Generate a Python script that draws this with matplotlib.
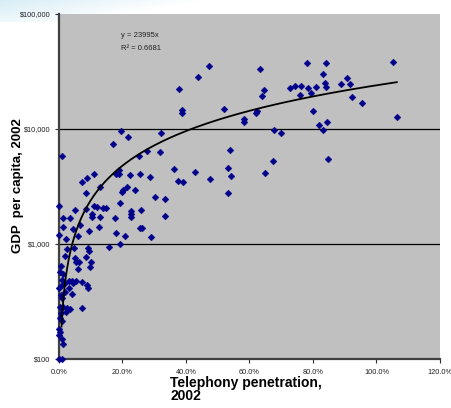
import matplotlib
matplotlib.use("Agg")
import matplotlib.pyplot as plt
import numpy as np
from matplotlib.ticker import FixedLocator, FixedFormatter
from matplotlib import font_manager

# Telephony penetration (%) and GDP per capita ($), 2002
pen = [17.0, 19.5, 21.6, 25.3, 27.8, 32.0, 31.8, 17.9, 19.0, 19.0, 22.5, 25.4, 28.8,
       36.2, 37.5, 39.1, 28.9, 30.3, 33.4, 33.3, 21.3, 20.3, 19.8, 23.9, 19.3, 13.8,
       14.9, 13.0, 17.6, 22.7, 22.8, 22.8, 25.9, 25.5, 26.0, 18.0, 20.8, 15.8, 19.2,
       37.8, 38.8, 38.7, 42.8, 43.7, 47.2, 47.5, 51.9, 53.3, 53.8, 54.2, 53.3, 58.4,
       58.3, 62.0, 62.4, 63.4, 63.9, 64.6, 65.0, 67.5, 67.8, 69.8, 72.7, 74.4, 76.1,
       75.8, 78.2, 78.5, 79.4, 79.9, 80.9, 81.9, 83.1, 83.2, 83.8, 84.2, 84.1, 84.4,
       84.8, 88.8, 90.7, 91.6, 92.4, 95.3, 105.3, 106.4,
       1.1, 7.1, 8.8, 11.1, 8.4, 12.9, 0.1, 1.3, 3.4, 5.0, 8.6, 10.9, 11.9, 10.5, 10.5,
       1.4, 4.5, 6.5, 9.4, 12.6, 0.0, 2.3, 6.0, 2.4, 4.6, 9.0, 9.5, 2.0, 5.0, 5.4, 6.4,
       8.4, 10.2, 6.1, 9.7, 0.2, 0.6, 1.3, 1.0, 1.0, 1.9, 3.1, 4.0, 5.4, 4.5, 7.1, 8.8,
       9.0, 3.1, 1.9, 0.0, 0.6, 1.0, 0.3, 1.4, 2.5, 3.4, 2.2, 0.6, 0.4, 0.9, 0.0, 0.2,
       0.1, 1.0, 1.3, 7.1, 0.1, 0.9, 4.0]
gdp = [7410, 9620, 8570, 5860, 6400, 9290, 6310, 4060, 4100, 4360, 3980, 4060, 3860,
       4490, 3530, 3460, 1160, 2560, 2460, 1760, 3110, 2950, 2830, 2950, 2290, 2070,
       2070, 1730, 1670, 1950, 1820, 1730, 1980, 1380, 1380, 1250, 1170, 936, 1000,
       22100, 14600, 13700, 4200, 28500, 35100, 3650, 15000, 4610, 6570, 3920, 2790, 12200,
       11400, 13800, 14300, 33200, 19500, 21800, 4120, 5300, 9860, 9180, 22600, 23800, 23800,
       19600, 37700, 22900, 20700, 14300, 23300, 10800, 29900, 9800, 25300, 23300, 37700, 11600,
       5480, 24800, 27900, 24800, 19000, 16700, 38500, 12800,
       5860, 3440, 3770, 4060, 2790, 3150, 2150, 1690, 1690, 1990, 2030, 2140, 2110, 1820, 1730,
       1410, 1350, 1470, 1290, 1410, 1200, 1110, 1170, 900, 923, 923, 875, 791, 751, 701, 701,
       766, 701, 607, 627, 574, 647, 545, 483, 440, 455, 476, 480, 480, 455, 465, 437,
       412, 417, 385, 412, 360, 337, 285, 285, 276, 270, 258, 250, 229, 214, 182, 171,
       162, 149, 136, 276, 100, 100, 370]

trend_coef = 23995          # y = 23995x  (x as a fraction)
eq_text = "y = 23995x"
r2_text = "R\u00b2 = 0.6681"
x_ticks = [0, 20, 40, 60, 80, 100, 120]
x_labels = ["0.0%", "20.0%", "40.0%", "60.0%", "80.0%", "100.0%", "120.0%"]
y_ticks = [100, 1000, 10000, 100000]
y_labels = ["$100", "$1,000", "$10,000", "$100,000"]

plt.rcParams['font.family'] = ['Liberation Sans', 'DejaVu Sans']
names = {f.name for f in font_manager.fontManager.ttflist}
narrow = 'Liberation Sans Narrow' if 'Liberation Sans Narrow' in names else 'Liberation Sans'

fig = plt.figure(figsize=(4.51, 4.08), dpi=100)
fig.patch.set_facecolor('white')

# faint slide decoration at the top-left
deco = fig.add_axes([0.0, 0.945, 0.55, 0.055])
gx = np.linspace(0, 1, 200)[None, :]
gy = np.linspace(0, 1, 20)[:, None]
grad = np.clip(gx * 1.2 + gy * 0.6, 0, 1)
deco.imshow(grad, cmap=matplotlib.colors.LinearSegmentedColormap.from_list(
    'd', ['#cde9f5', '#ffffff']), aspect='auto', alpha=0.8)
deco.axis('off')

ax = fig.add_axes([0.1308, 0.1201, 0.8448, 0.8456])
ax.set_facecolor('#C0C0C0')

ax.set_yscale('log')
ax.set_xlim(0, 120)
ax.set_ylim(100, 100000)

for yv in [1000, 10000]:
    ax.axhline(yv, color='black', lw=0.9, zorder=1)

ax.scatter(pen, gdp, marker='D', s=12, color='#00008B', edgecolors='#00008B',
           linewidths=0.3, zorder=3, clip_on=False)

xs = np.linspace(0.8, max(pen), 300)
ax.plot(xs, trend_coef * xs / 100.0, color='black', lw=1.3, zorder=4)

ax.text(19.5, 65000, eq_text, fontsize=5.5, color='#222222', ha='left', va='center',
        family=narrow)
ax.text(19.5, 50500, r2_text, fontsize=5.5, color='#222222', ha='left', va='center',
        family=narrow)

ax.xaxis.set_major_locator(FixedLocator(x_ticks))
ax.xaxis.set_major_formatter(FixedFormatter(x_labels))
ax.yaxis.set_major_locator(FixedLocator(y_ticks))
ax.yaxis.set_major_formatter(FixedFormatter(y_labels))
ax.yaxis.set_minor_locator(FixedLocator([]))
ax.tick_params(axis='both', labelsize=5.3, length=3, width=0.8, color='#303030',
               labelcolor='#222222', pad=3)
ax.tick_params(axis='x', pad=4)
for lab in ax.get_xticklabels() + ax.get_yticklabels():
    lab.set_family(narrow)

for s in ['top', 'right']:
    ax.spines[s].set_visible(False)
for s in ['left', 'bottom']:
    ax.spines[s].set_color('#404040')
    ax.spines[s].set_linewidth(1.6)

fig.text(0.039, 0.545, "GDP  per capita, 2002", fontsize=9.5, fontweight='bold',
         rotation=90, ha='center', va='center')
fig.text(0.377, 0.045, "Telephony penetration,\n2002", fontsize=10, fontweight='bold',
         ha='left', va='center', linespacing=0.95)

fig.savefig("out.png", dpi=100, facecolor='white')
